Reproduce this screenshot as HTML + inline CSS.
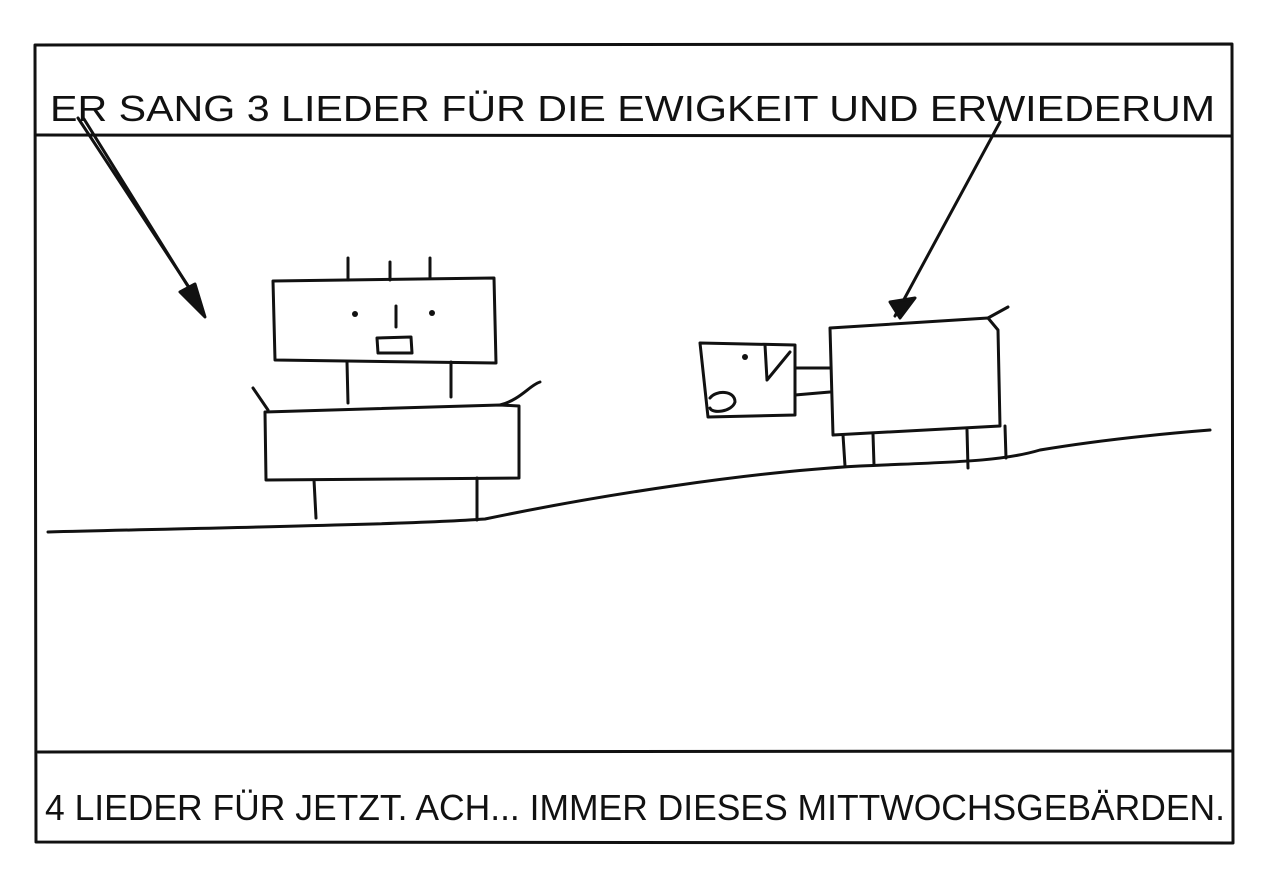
<!DOCTYPE html>
<html><head><meta charset="utf-8"><style>
html,body{margin:0;padding:0;background:#fff;width:1280px;height:880px;overflow:hidden}
svg{display:block}
text{font-family:"Liberation Sans",sans-serif;font-size:36px;fill:#111}
</style></head><body>
<svg width="1280" height="880" viewBox="0 0 1280 880" xmlns="http://www.w3.org/2000/svg">
<g fill="none" stroke="#111" stroke-width="3" stroke-linecap="round" stroke-linejoin="round">
<path d="M35 45 L1232 44 L1233 843 L36 842 Z"/>
<path d="M36 135 L1232 136"/>
<path d="M38 752 L1232 751"/>
<path d="M48 532 C200 528 400 525 485 519 C600 495 750 472 860 466 C950 462 1000 462 1040 450 C1100 440 1160 434 1210 430"/>
<path d="M78 118 L196 298"/>
<path d="M84 119 L194 296"/>
<path d="M180 292 L205 317 L195 284 Z" fill="#111"/>
<path d="M273 281 L494 278 L496 363 L275 360 Z"/>
<path d="M348 258 L348 280 M390 262 L390 280 M430 258 L430 278"/>
<path d="M396 306 L396 327"/>
<path d="M377 338 L411 337 L412 353 L378 353 Z"/>
<path d="M347 362 L348 403 M451 362 L451 397"/>
<path d="M265 412 L500 405 L519 406 L519 478 L266 480 Z"/>
<path d="M253 388 L268 410 M500 405 C520 400 530 385 540 382"/>
<path d="M314 480 L316 518 M477 478 L477 520"/>
<path d="M1000 122 L895 316"/>
<path d="M890 302 L900 318 L915 298 Z" fill="#111"/>
<path d="M700 343 L795 345 L795 415 L708 417 Z"/>
<path d="M765 345 L767 380 L790 352"/>
<path d="M710 398 C716 390 735 390 735 402 C732 412 712 414 710 408"/>
<path d="M795 368 L830 368 M795 395 L830 392"/>
<path d="M830 328 L988 318 L998 330 L1000 426 L833 435 Z"/>
<path d="M988 318 L1008 307"/>
<path d="M843 435 L845 466 M873 434 L874 465 M967 430 L968 468 M1005 426 L1006 458"/>
</g>
<circle cx="355" cy="314" r="3" fill="#111"/>
<circle cx="432" cy="313" r="3" fill="#111"/>
<circle cx="745" cy="357" r="3" fill="#111"/>
<text x="50" y="121" textLength="1165" lengthAdjust="spacingAndGlyphs">ER SANG 3 LIEDER FÜR DIE EWIGKEIT  UND ERWIEDERUM</text>
<text x="45" y="820" textLength="1180" lengthAdjust="spacingAndGlyphs">4 LIEDER FÜR JETZT. ACH...  IMMER DIESES MITTWOCHSGEBÄRDEN.</text>
</svg>
</body></html>
